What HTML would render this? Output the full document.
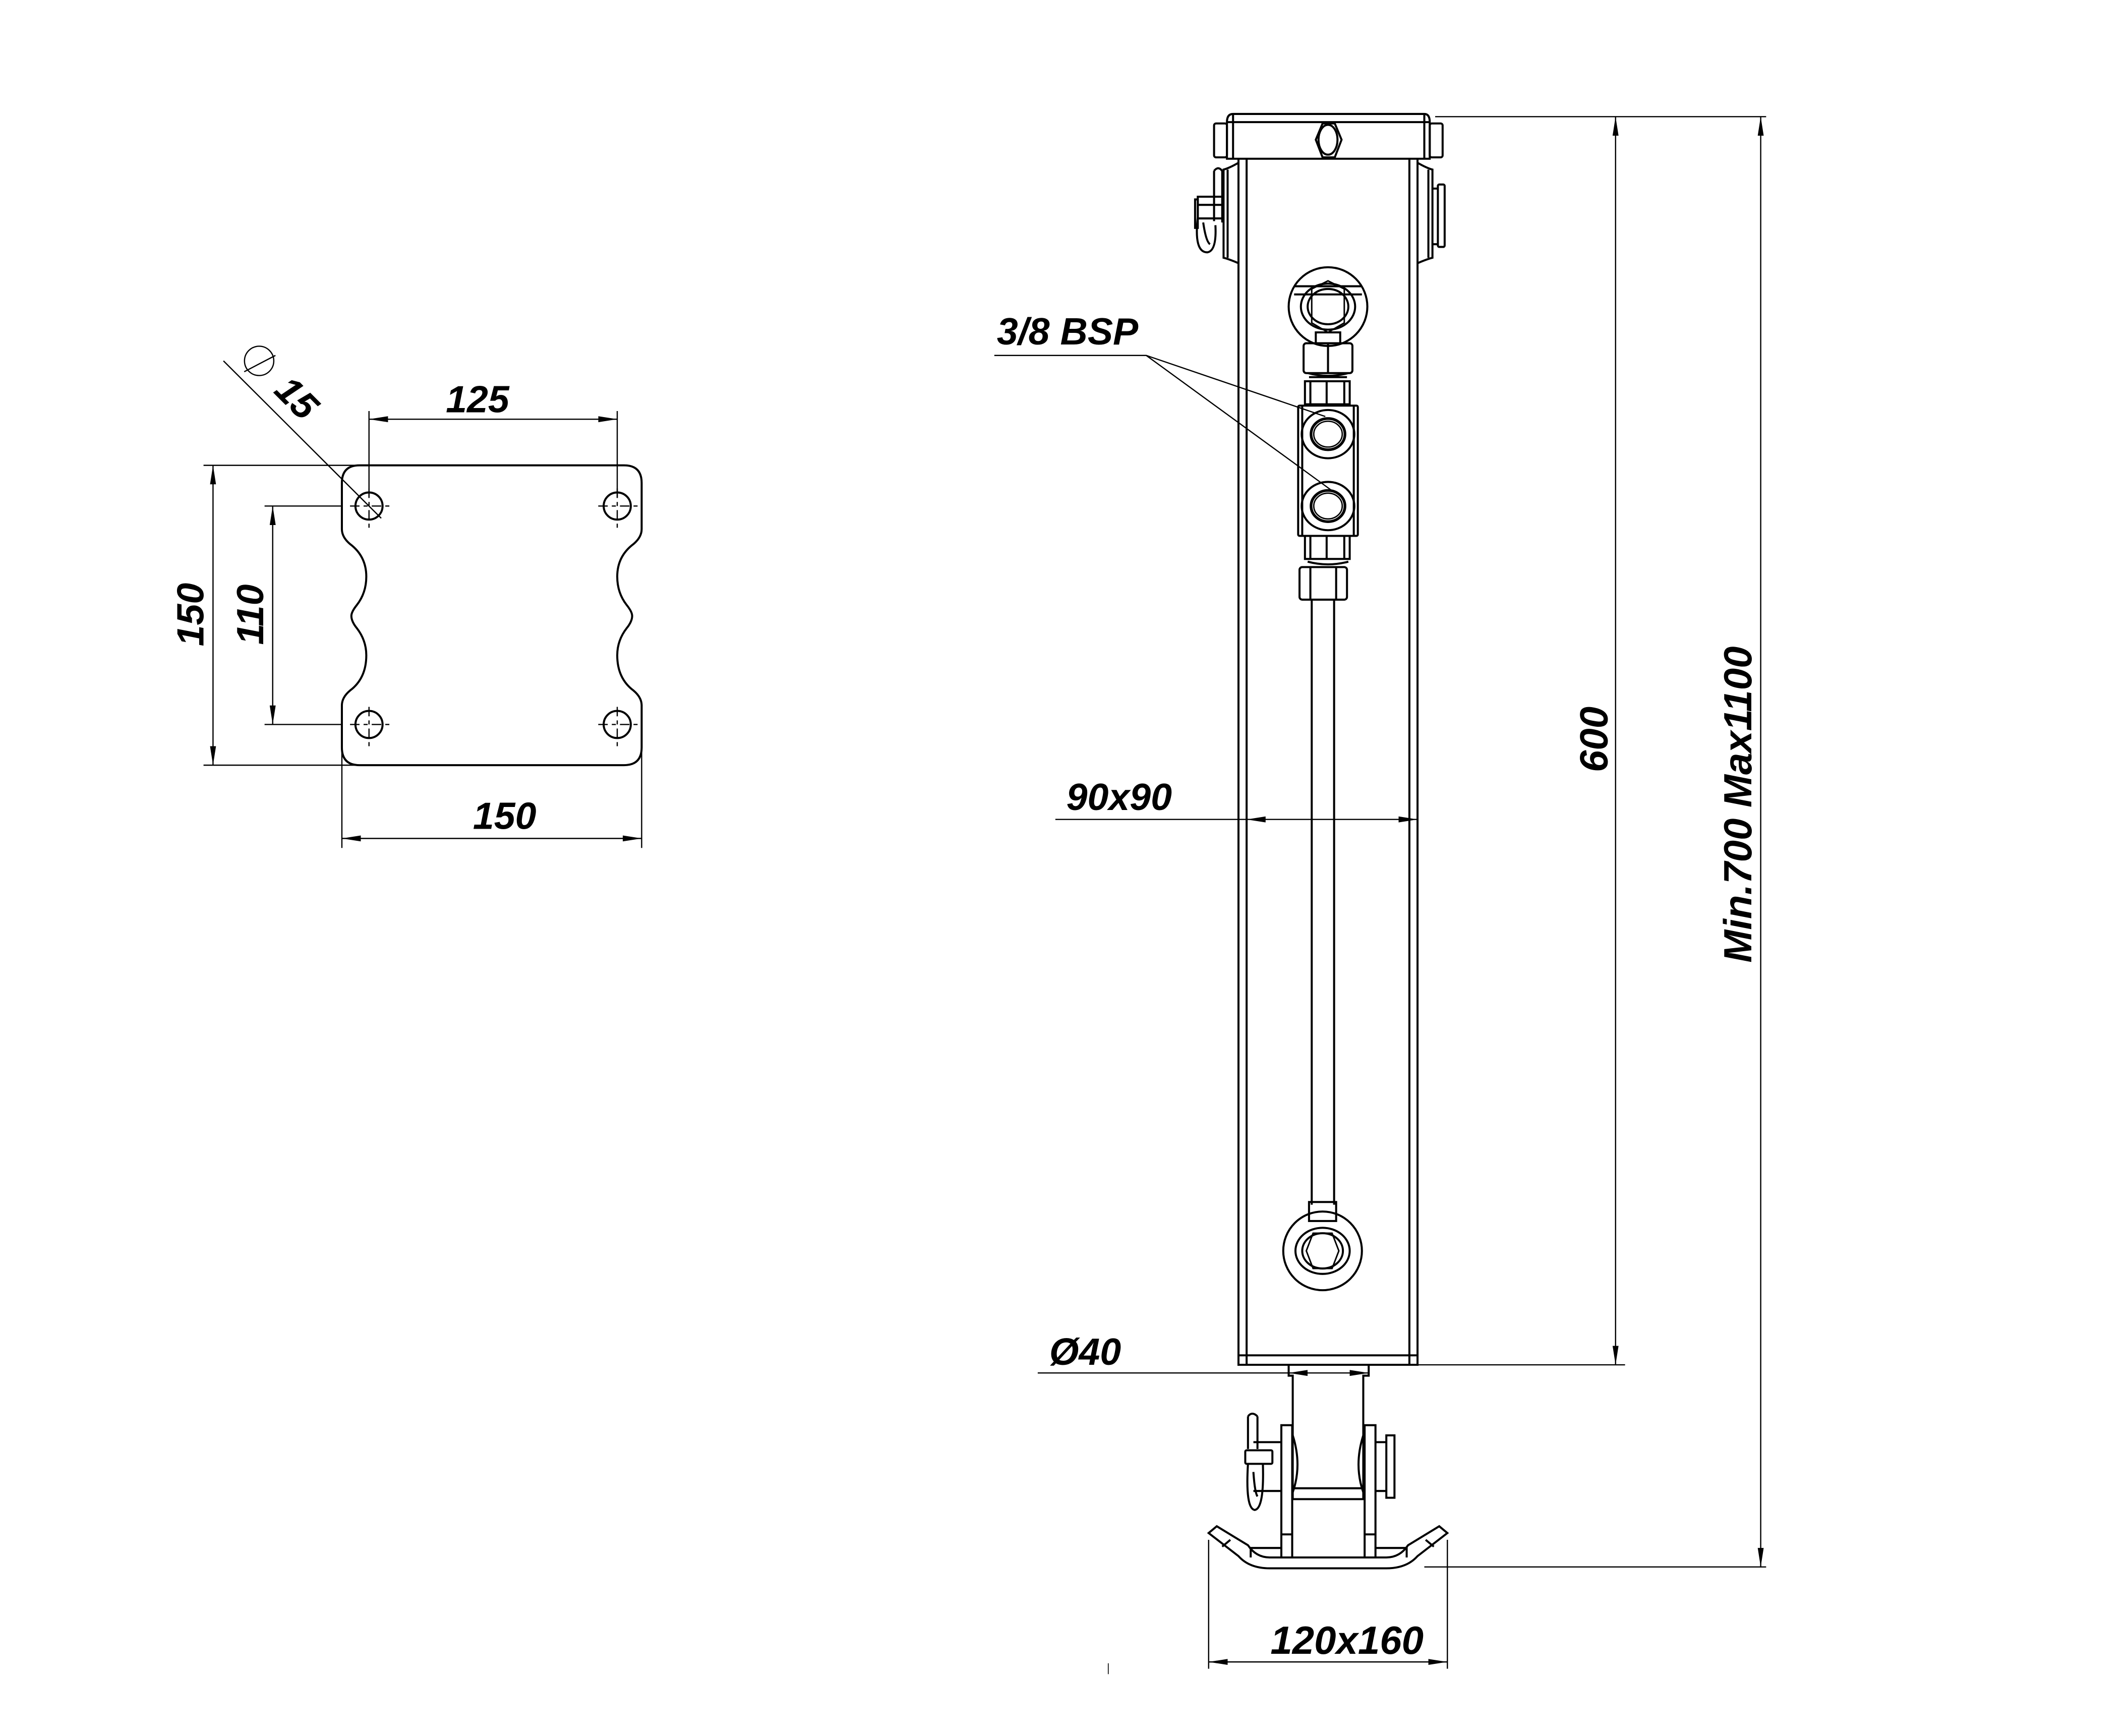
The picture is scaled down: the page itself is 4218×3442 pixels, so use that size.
<!DOCTYPE html>
<html><head><meta charset="utf-8"><style>
html,body{margin:0;padding:0;background:#fff;}
svg{display:block;}
text{font-family:"Liberation Sans",sans-serif;font-style:italic;font-weight:bold;fill:#000;}
</style></head><body>
<svg width="4218" height="3442" viewBox="0 0 1568 1279.6" xmlns="http://www.w3.org/2000/svg">
<defs>
<marker id="a" viewBox="0 0 14 6" refX="14" refY="3" markerWidth="14" markerHeight="6" markerUnits="userSpaceOnUse" orient="auto-start-reverse"><path d="M0,0.8 L14,3 L0,5.2 Z" fill="#000"/></marker>
</defs>
<rect width="1568" height="1280" fill="#fff"/>

<g fill="none" stroke="#000" stroke-width="1.5">
<path d="M265,343 H460 Q473,343 473,356 V390 Q473,396 467,401 Q455,410 455,425 Q455,437 462,446 Q466,451 466,454 Q466,458 462,463 Q455,472 455,483 Q455,500 467,509 Q473,514 473,520 V551 Q473,564 460,564 H265 Q252,564 252,551 V520 Q252,514 258,509 Q270,500 270,483 Q270,472 263,463 Q259,458 259,454 Q259,451 263,446 Q270,437 270,425 Q270,410 258,401 Q252,396 252,390 V356 Q252,343 265,343 Z"/>
<ellipse cx="272" cy="373" rx="10" ry="10"/>
<ellipse cx="455" cy="373" rx="10" ry="10"/>
<ellipse cx="272" cy="534" rx="10" ry="10"/>
<ellipse cx="455" cy="534" rx="10" ry="10"/>
</g>
<g stroke="#000" stroke-width="0.9" stroke-dasharray="7,3,3,3" fill="none">
<path d="M258,373 H288 M441,373 H471 M258,534 H288 M441,534 H471"/>
<path d="M272,360 V389 M455,360 V389 M272,521 V550 M455,521 V550"/>
</g>
<g stroke="#000" stroke-width="0.9" fill="none">
<path d="M272,303 V367 M455,303 V367"/>
<line x1="272" y1="309" x2="455" y2="309" marker-start="url(#a)" marker-end="url(#a)"/>
<path d="M150,343 H265 M150,564 H265"/>
<line x1="157" y1="343" x2="157" y2="564" marker-start="url(#a)" marker-end="url(#a)"/>
<path d="M195,373 H252 M195,534 H252"/>
<line x1="201" y1="373" x2="201" y2="534" marker-start="url(#a)" marker-end="url(#a)"/>
<path d="M252,540 V625 M473,540 V625"/>
<line x1="252" y1="618" x2="473" y2="618" marker-start="url(#a)" marker-end="url(#a)"/>
<line x1="164.7" y1="266" x2="281" y2="382"/>
<circle cx="191" cy="266" r="10.8"/>
<line x1="180" y1="274" x2="203" y2="262"/>
</g>
<text x="352" y="304" font-size="28" text-anchor="middle">125</text>
<text x="372" y="611" font-size="28" text-anchor="middle">150</text>
<text transform="translate(150,453) rotate(-90)" font-size="28" text-anchor="middle">150</text>
<text transform="translate(194,453) rotate(-90)" font-size="28" text-anchor="middle">110</text>
<text transform="translate(212,300) rotate(45)" font-size="28" text-anchor="middle">15</text>

<g fill="none" stroke="#000" stroke-width="1.5">
<path d="M909,84 H1050 Q1054,84 1054,90 V117 H904.5 V90 Q904.5,84 909,84 Z"/>
<path d="M904.5,90 H1054 M909,84 V117 M1050,84 V117"/>
<rect x="895" y="91" width="9.5" height="25" rx="1.5"/>
<rect x="1054" y="91" width="9.5" height="25" rx="1.5"/>
<path d="M970,103 L975,91 H984 L989,103 L984,116 H975 Z"/>
<ellipse cx="979" cy="103" rx="7" ry="11"/>
<path d="M913,117 V1006 H1045 V117"/>
<path d="M919,117 V1006 M1039,117 V1006 M913,999 H1045"/>
<path d="M913,120 Q906,124 902,125 V190 Q906,191 913,194"/>
<path d="M905,125 V190"/>
<path d="M1045,120 Q1052,124 1056,125 V190 Q1052,191 1045,194"/>
<path d="M1053,125 V190 M1056,139 H1060 M1056,180 H1060"/>
<rect x="1060" y="136" width="5" height="46" rx="1"/>
<path d="M895,126 V163 M901,126 V164 M895,126 Q898,122 901,126"/>
<path d="M902,151 H883 V161 H902 M881,147 H883 V168 H881 Z"/>
<path d="M883,160 Q880,186 890,186 Q897,185 896,166 M887,164 Q889,178 892,180"/>
<path d="M901,145 H883 V160"/>
<circle cx="979" cy="226" r="29"/>
<path d="M954,211 H1004 M954,217 H1004"/>
<ellipse cx="979" cy="226" rx="20" ry="17"/>
<path d="M979,207 L991,213 V238 L979,245 L967,238 V213 Z" stroke-width="1.1"/>
<ellipse cx="979" cy="226" rx="15" ry="13"/>
<rect x="970" y="245" width="18" height="8"/>
<rect x="961" y="253" width="36" height="22" rx="2"/>
<path d="M979,253 V275"/>
<path d="M964,275 Q979,279 994,275 M965,278 H993"/>
<rect x="962" y="281" width="33" height="17"/>
<path d="M966,281 V298 M978,281 V298 M991,281 V298"/>
<rect x="957" y="299" width="44" height="96" rx="1"/>
<path d="M960,299 V395 M998,299 V395"/>
<ellipse cx="979" cy="320" rx="19.4" ry="17.8"/>
<ellipse cx="979" cy="320" rx="12.5" ry="11.5" stroke-width="2"/>
<ellipse cx="979" cy="320" rx="10.5" ry="9.5" stroke-width="1"/>
<ellipse cx="979" cy="373" rx="19.4" ry="17.8"/>
<ellipse cx="979" cy="373" rx="12.5" ry="11.5" stroke-width="2"/>
<ellipse cx="979" cy="373" rx="10.5" ry="9.5" stroke-width="1"/>
<rect x="962" y="395" width="33" height="17"/>
<path d="M966,395 V412 M978,395 V412 M991,395 V412"/>
<path d="M964,414 Q979,418 994,414"/>
<rect x="958" y="418" width="35" height="24" rx="2"/>
<path d="M966,418 V442 M985,418 V442"/>
<path d="M967,442 V888 M983.5,442 V888"/>
<rect x="965" y="886" width="20" height="14"/>
<ellipse cx="975" cy="922" rx="29" ry="29"/>
<ellipse cx="975" cy="922" rx="20" ry="17"/>
<path d="M963,922 L968,909 H982 L987,922 L982,935 H968 Z" stroke-width="1.1"/>
<ellipse cx="975" cy="922" rx="15" ry="13"/>
<path d="M950,1006 V1014 H953 V1097 M1009,1006 V1014 H1005 V1097"/>
<path d="M953,1097 V1105 H1005 V1097 M953,1097 H1005"/>
<path d="M953,1058 Q960,1080 953,1100 M1005,1058 Q998,1080 1005,1100"/>
<rect x="944.6" y="1050.5" width="8" height="97.5"/>
<rect x="1006" y="1050.5" width="8" height="97.5"/>
<path d="M944.6,1131 H952.6 M1006,1131 H1014"/>
<path d="M924,1063 H944.6 M924,1099 H944.6 M1014,1063 H1022 M1014,1099 H1022"/>
<rect x="1022" y="1058" width="6" height="46"/>
<path d="M944.6,1141 H922 V1148 M1014,1141 H1037 V1148"/>
<path d="M891,1130 L897,1125 L920,1139 Q926,1148 936,1148 H1022 Q1032,1148 1038,1139 L1061,1125 L1067,1130 L1045,1147 Q1037,1156 1022,1156 H936 Q921,1156 913,1147 Z"/>
<path d="M901,1140 L907,1135 M1051,1135 L1057,1140"/>
<path d="M920,1044 V1068 M927,1044 V1068 M920,1044 Q923,1040 927,1044"/>
<rect x="918" y="1069" width="20" height="10" rx="1"/>
<path d="M920,1079 Q918,1112 925,1113 Q932,1112 931,1079 M924,1085 Q925,1100 927,1103"/>
</g>

<g stroke="#000" stroke-width="0.9" fill="none">
<path d="M1058,86 H1198 M1045,1006 H1198 M1064,86 H1302 M1050,1155 H1302"/>
<line x1="1191" y1="86" x2="1191" y2="1006" marker-start="url(#a)" marker-end="url(#a)"/>
<line x1="1298" y1="86" x2="1298" y2="1155" marker-start="url(#a)" marker-end="url(#a)"/>
<line x1="778" y1="604" x2="919" y2="604"/>
<line x1="919" y1="604" x2="1045" y2="604" marker-start="url(#a)" marker-end="url(#a)"/>
<line x1="765" y1="1012" x2="950" y2="1012"/>
<line x1="950" y1="1012" x2="1009" y2="1012" marker-start="url(#a)" marker-end="url(#a)"/>
<path d="M891,1135 V1230 M1067,1135 V1230"/>
<line x1="891" y1="1225" x2="1067" y2="1225" marker-start="url(#a)" marker-end="url(#a)"/>
<path d="M733,262 H845 L977,307 M845,262 L981,361"/>
<path d="M817,1226 V1234" stroke-width="0.6"/>
</g>
<text x="787" y="254" font-size="28" text-anchor="middle">3/8 BSP</text>
<text x="825" y="597" font-size="28" text-anchor="middle">90x90</text>
<text x="800" y="1006" font-size="28" text-anchor="middle">Ø40</text>
<text x="993" y="1219" font-size="29" text-anchor="middle">120x160</text>
<text transform="translate(1185,545) rotate(-90)" font-size="29" text-anchor="middle">600</text>
<text transform="translate(1291,593) rotate(-90)" font-size="29" text-anchor="middle">Min.700 Max1100</text>
</svg>
</body></html>
